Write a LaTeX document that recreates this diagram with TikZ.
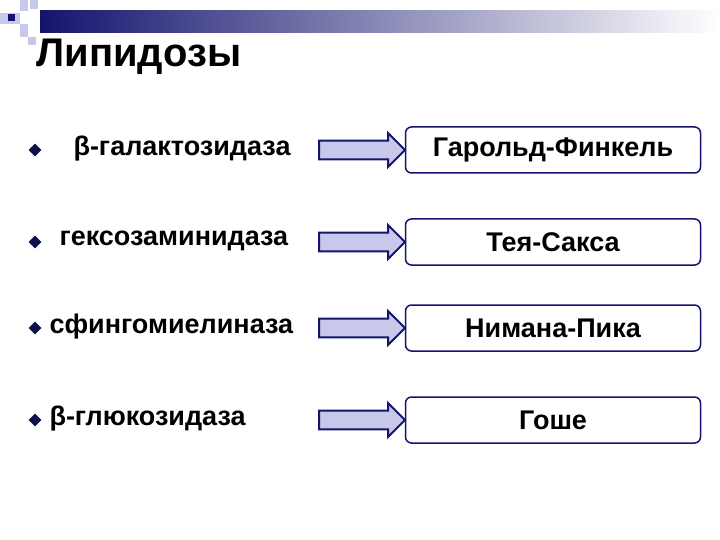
\documentclass[tikz,border=0pt]{standalone}
\usepackage{fontspec}
\setmainfont{Liberation Sans}
\usetikzlibrary{shapes.geometric,shapes.arrows}
\definecolor{navy}{RGB}{20,20,110}
\definecolor{lav}{RGB}{200,200,235}
\definecolor{arrfill}{RGB}{200,200,235}
\begin{document}
\begin{tikzpicture}[x=1pt,y=-1pt,
  res/.style={draw=navy,line width=1.5pt,rounded corners=6pt,minimum width=295pt,minimum height=46pt,font=\bfseries\fontsize{27}{30}\selectfont,fill=white},
  enz/.style={anchor=west,font=\bfseries\fontsize{27}{30}\selectfont},
  bul/.style={diamond,fill=navy!70!black,inner sep=0pt,minimum size=13pt},
  arr/.style={single arrow,draw=navy,line width=2pt,fill=arrfill,minimum height=86pt,minimum width=34pt,single arrow head extend=5pt,inner sep=5pt,anchor=west}]
\useasboundingbox (0,0) rectangle (720,540);
\fill[white] (0,0) rectangle (720,540);
\shade[left color=navy,right color=white] (40,11) rectangle (720,33);
\fill[lav] (20,0) rectangle (28,11);
\fill[lav] (0,13) rectangle (20,24);
\fill[navy] (8,14) rectangle (15,21);
\fill[lav] (20,24) rectangle (28,37);
\fill[lav] (30,0) rectangle (38,9);
\fill[lav] (28,37) rectangle (36,45);
\node[anchor=west,font=\bfseries\fontsize{40}{44}\selectfont] (title) at (33,57) {Липидозы};
\foreach \y/\e/\ex/\r/\n in {150/β-галактозидаза/70/Гарольд-Финкель/a,242/гексозаминидаза/56/Тея-Сакса/b,328/сфингомиелиназа/46/Нимана-Пика/c,420/β-глюкозидаза/46/Гоше/d}{
  \node[bul] (b\n) at (35,\y) {};
  \node[enz] (e\n) at (\ex,\y-1) {\e};
  \node[res] (r\n) at (553,\y) {\r};
  \node[arr] (a\n) at (318,\y) {};
}
\end{tikzpicture}
\end{document}
